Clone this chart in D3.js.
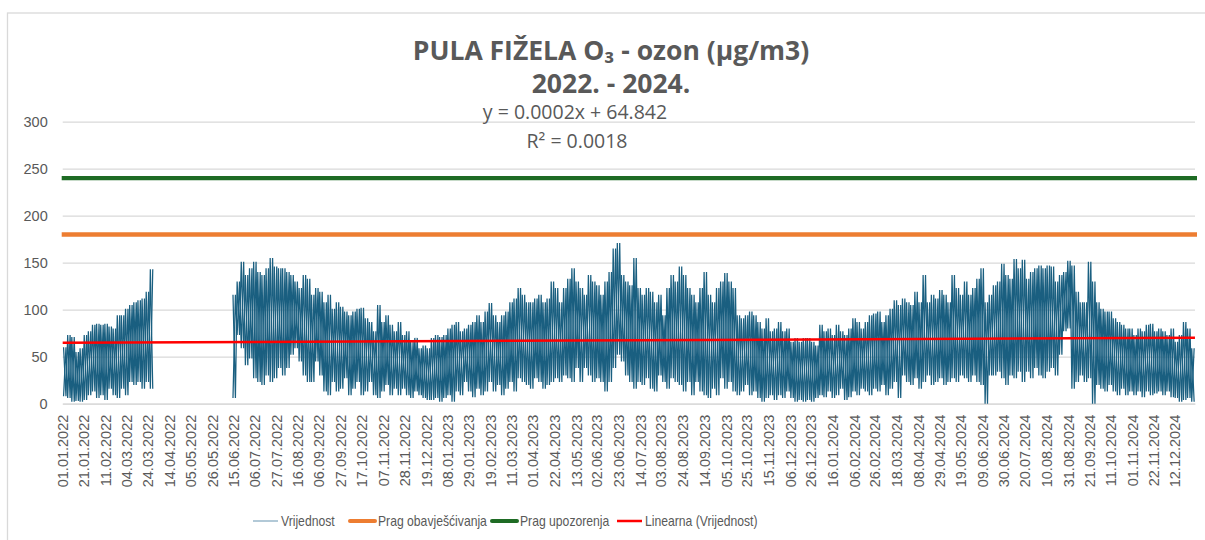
<!DOCTYPE html>
<html>
<head>
<meta charset="utf-8">
<script src="https://cdn.jsdelivr.net/npm/d3@7"></script>
<style>
  html, body { margin: 0; padding: 0; background: #fff; }
  svg { display: block; }
</style>
</head>
<body>
<svg id="chart" width="1205" height="540"></svg>
<script>
// ---------------- DATA ----------------
const titleLine1 = "PULA FIŽELA O\u2083 - ozon (µg/m3)";
const titleLine2 = "2022. - 2024.";
const trendLabel1 = "y = 0.0002x + 64.842";
const trendLabel2 = "R\u00B2 = 0.0018";

const startDate = "2022-01-01";
const endDate = "2025-01-01";
const binDays = 4; // each value pair below covers 4 days (hourly data summarised as min/max)

// 4-day maxima of hourly O3 (µg/m3); null = no data
const seriesHigh = [
  60,73,71,55,59,73,77,84,85,84,85,82,80,94,94,101,105,108,110,112,119,143,
  null,null,null,null,null,null,null,null,null,null,null,null,null,null,null,null,null,null,null,
  116,130,151,137,144,151,140,137,144,155,146,144,144,140,137,130,123,137,133,116,123,119,108,116,101,108,
  103,98,94,98,101,102,91,87,77,105,87,94,84,77,87,73,77,66,70,59,62,59,70,73,71,73,80,84,87,77,80,84,87,94,
  87,98,107,94,87,94,98,108,112,123,116,108,108,112,116,108,112,130,123,108,123,133,144,130,123,116,137,130,126,116,130,140,165,171,
  137,130,126,155,123,116,123,119,108,116,94,123,137,130,146,137,123,116,108,123,140,116,108,123,130,139,130,123,94,91,94,98,94,87,
  80,91,77,80,87,77,80,66,70,66,70,70,66,62,84,77,80,73,84,77,73,80,91,87,80,87,94,96,98,87,94,101,110,105,
  112,108,105,119,108,137,108,116,112,121,116,108,137,123,116,130,116,123,133,144,108,116,126,130,149,137,133,154,144,153,133,140,144,147,144,147,
  146,130,137,140,152,147,119,108,108,151,130,108,101,98,98,91,87,84,80,80,73,80,77,84,85,77,80,77,73,80,66,73,87,80,59
];
// 4-day minima of hourly O3 (µg/m3)
const seriesLow = [
  8,6,2,3,2,4,9,13,6,9,4,16,9,6,16,9,23,20,23,16,23,16,
  null,null,null,null,null,null,null,null,null,null,null,null,null,null,null,null,null,null,null,
  6,73,59,41,48,27,23,20,30,23,27,38,30,38,52,59,45,30,23,23,45,30,13,9,23,13,
  16,27,9,16,23,9,13,23,9,6,13,20,9,16,9,16,9,6,13,9,6,4,4,6,2,6,9,2,13,9,23,13,7,16,
  9,13,23,13,20,9,16,23,13,27,23,20,16,27,23,16,20,23,27,23,30,27,23,38,23,38,30,23,27,23,13,23,38,52,
  45,30,23,16,23,20,27,16,13,30,23,16,27,23,20,13,23,9,23,13,9,6,16,9,27,16,23,13,9,13,20,9,13,6,
  2,6,9,4,9,6,13,6,2,4,2,4,2,6,9,7,13,6,9,16,4,7,13,9,16,13,9,16,13,20,9,16,23,6,
  30,23,20,27,16,23,30,20,23,27,20,23,27,23,30,27,23,30,23,20,0,30,30,34,27,20,30,27,34,23,34,27,38,30,27,34,
  38,30,52,77,80,16,23,30,23,27,0,20,16,13,20,13,9,16,9,13,9,13,7,13,9,11,13,9,13,7,6,2,4,6,2
];

const pragObavjescivanja = 180; // information threshold
const pragUpozorenja = 240;     // alert threshold
const trendSlope = 0.0002;      // per hourly point
const trendIntercept = 64.842;

const yTicks = [0, 50, 100, 150, 200, 250, 300];
const xTickLabels = [
  "01.01.2022","21.01.2022","11.02.2022","04.03.2022","24.03.2022","14.04.2022","05.05.2022","26.05.2022",
  "15.06.2022","06.07.2022","27.07.2022","16.08.2022","06.09.2022","27.09.2022","17.10.2022","07.11.2022",
  "28.11.2022","19.12.2022","08.01.2023","29.01.2023","19.02.2023","11.03.2023","01.04.2023","22.04.2023",
  "13.05.2023","02.06.2023","23.06.2023","14.07.2023","03.08.2023","24.08.2023","14.09.2023","05.10.2023",
  "25.10.2023","15.11.2023","06.12.2023","26.12.2023","16.01.2024","06.02.2024","26.02.2024","18.03.2024",
  "08.04.2024","29.04.2024","19.05.2024","09.06.2024","30.06.2024","20.07.2024","10.08.2024","31.08.2024",
  "21.09.2024","11.10.2024","01.11.2024","22.11.2024","12.12.2024"
];

const legendItems = [
  { name: "Vrijednost", color: "#7fa6bc", width: 1.2 },
  { name: "Prag obavješćivanja", color: "#ED7D31", width: 4 },
  { name: "Prag upozorenja", color: "#1E6B24", width: 4 },
  { name: "Linearna (Vrijednost)", color: "#FF0000", width: 2.5 }
];

// ---------------- CHART ----------------
const svg = d3.select("#chart");
const W = 1205, H = 540;
const plot = { left: 62.7, right: 1195, top: 121.7, bottom: 403.7 };
const textColor = "#595959";
const gridColor = "#d9d9d9";
const seriesColor = "#1a5f80";

const parseUTC = d3.utcParse("%Y-%m-%d");
const parseLabel = d3.utcParse("%d.%m.%Y");
const t0 = parseUTC(startDate), t1 = parseUTC(endDate);

const x = d3.scaleUtc().domain([t0, t1]).range([plot.left, plot.right]);
const y = d3.scaleLinear().domain([0, 300]).range([plot.bottom, plot.top]);

svg.append("rect").attr("width", W).attr("height", H).attr("fill", "#fff");
// chart frame
svg.append("rect").attr("x", 7.5).attr("y", 13).attr("width", W + 20).attr("height", H + 20)
  .attr("fill", "none").attr("stroke", gridColor).attr("stroke-width", 1.3);

// gridlines
const yAxis = d3.axisLeft(y).tickValues(yTicks).tickSize(-(plot.right - plot.left)).tickPadding(15);
const gy = svg.append("g").attr("transform", `translate(${plot.left},0)`).call(yAxis);
gy.select(".domain").remove();
gy.selectAll(".tick line").attr("stroke", gridColor).attr("stroke-width", 1.3);
gy.selectAll(".tick text").attr("fill", textColor)
  .style("font-family", "'Liberation Sans', Arial, sans-serif").style("font-size", "14.5px");

// x axis labels
const xAxis = d3.axisBottom(x).tickValues(xTickLabels.map(parseLabel))
  .tickFormat((d, i) => xTickLabels[i]).tickSize(0);
const gx = svg.append("g").attr("transform", `translate(0,${plot.bottom})`).call(xAxis);
gx.select(".domain").attr("stroke", gridColor).attr("stroke-width", 1.3);
gx.selectAll(".tick text")
  .attr("fill", textColor)
  .style("font-family", "'Liberation Sans', Arial, sans-serif").style("font-size", "14.5px")
  .attr("text-anchor", "end")
  .attr("dy", "0.35em")
  .attr("transform", "translate(0,11) rotate(-90)")
  .attr("x", 0).attr("y", 0);

// data series: each 4-day bin spans its low and high; drawn in two phases for hourly-like density
const line = d3.line().defined(d => d.v != null).x(d => x(d.t)).y(d => y(d.v));
[[20, 76], [76, 20]].forEach(([hLo, hHi]) => {
  const pts = [];
  seriesHigh.forEach((hi, i) => {
    const lo = seriesLow[i];
    const start = d3.utcDay.offset(t0, i * binDays);
    const a = { t: d3.utcHour.offset(start, hLo), v: lo };
    const b = { t: d3.utcHour.offset(start, hHi), v: hi };
    if (hLo < hHi) pts.push(a, b); else pts.push(b, a);
  });
  svg.append("path").datum(pts).attr("d", line)
    .attr("fill", "none").attr("stroke", seriesColor).attr("stroke-width", 1.25);
});

// thresholds
[[pragUpozorenja, "#1E6B24"], [pragObavjescivanja, "#ED7D31"]].forEach(([v, c]) => {
  svg.append("line").attr("x1", plot.left - 1).attr("x2", plot.right + 2)
    .attr("y1", y(v)).attr("y2", y(v)).attr("stroke", c).attr("stroke-width", 4.3);
});

// linear trend (x = hourly point index, 1-based)
const totalHours = d3.utcHour.count(t0, t1);
const trendPts = [1, totalHours].map(n => ({ t: d3.utcHour.offset(t0, n - 1), v: trendSlope * n + trendIntercept }));
svg.append("path").datum(trendPts).attr("d", d3.line().x(d => x(d.t)).y(d => y(d.v)))
  .attr("stroke", "#FF0000").attr("stroke-width", 2.5).attr("fill", "none");

// titles
const tStyle = s => s.attr("text-anchor", "middle").attr("fill", textColor)
  .style("font-family", "'Open Sans', 'Noto Sans', sans-serif").style("font-weight", "bold").style("font-size", "26.5px");
svg.append("text").attr("x", 611).attr("y", 60).call(tStyle).text(titleLine1);
svg.append("text").attr("x", 611).attr("y", 92.5).call(tStyle).text(titleLine2);

svg.append("text").attr("x", 575).attr("y", 119).attr("text-anchor", "middle").attr("fill", textColor)
  .style("font-family", "'Open Sans', 'Noto Sans', sans-serif").style("font-size", "19.5px").text(trendLabel1);
svg.append("text").attr("x", 577).attr("y", 148).attr("text-anchor", "middle").attr("fill", textColor)
  .style("font-family", "'Open Sans', 'Noto Sans', sans-serif").style("font-size", "19.5px").text(trendLabel2);

// legend
const legendX = [253, 350, 492, 617];
const lg = svg.append("g").attr("transform", "translate(0,521)");
legendItems.forEach((it, i) => {
  const g = lg.append("g").attr("transform", `translate(${legendX[i]},0)`);
  g.append("line").attr("x1", 0).attr("x2", 25).attr("y1", 0).attr("y2", 0)
    .attr("stroke", it.color).attr("stroke-width", it.width).attr("stroke-linecap", it.width > 3 ? "round" : "butt");
  g.append("text").attr("transform", "translate(28,0) scale(0.84,1)").attr("dy", "0.35em").attr("fill", textColor)
    .style("font-family", "'Liberation Sans', Arial, sans-serif")
    .style("font-size", "14.5px").text(it.name);
});
</script>
</body>
</html>
